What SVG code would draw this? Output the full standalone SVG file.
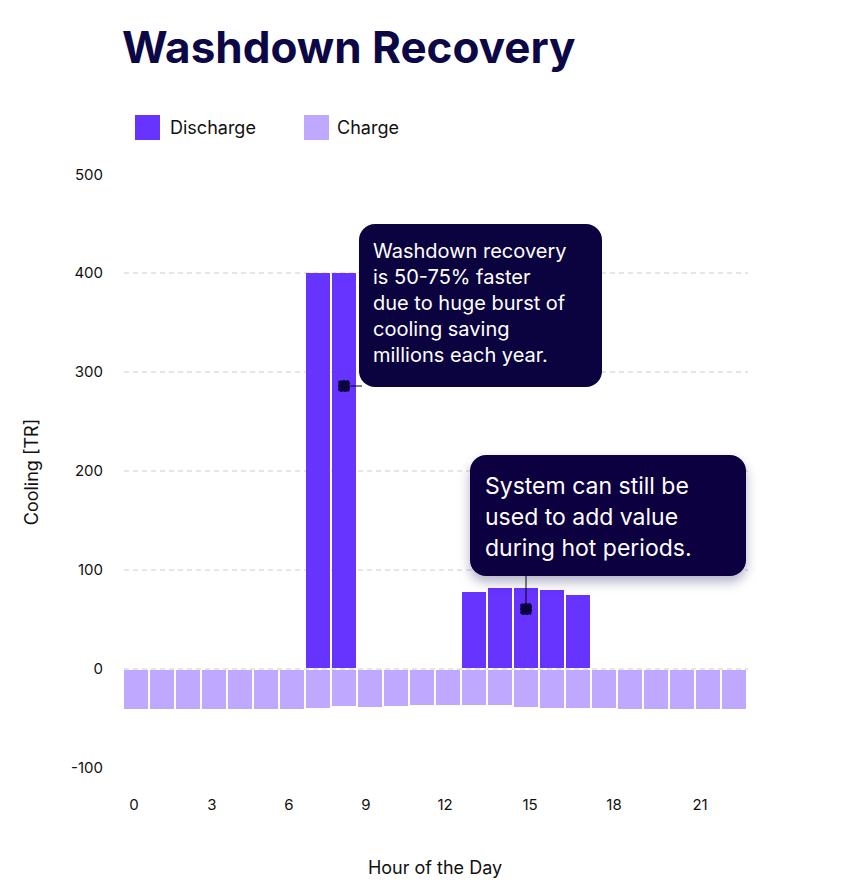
<svg xmlns="http://www.w3.org/2000/svg" width="843" height="891" viewBox="0 0 843 891">
<defs>
<filter id="sh" x="-20%" y="-20%" width="140%" height="160%"><feDropShadow dx="0" dy="6" stdDeviation="6" flood-color="#0b0845" flood-opacity="0.3"/></filter>
</defs>
<style>
text{font-family:Inter,"Liberation Sans",sans-serif;fill:#111}
.t{font-size:15px;text-anchor:end}
.x{font-size:15px;text-anchor:middle}
.g{stroke:#ccc;stroke-dasharray:5 4;stroke-width:1}
.d{fill:#6633ff}
.c{fill:#bfa8ff}
.cb{fill:#0b0340}
.ct{fill:#fff;font-size:20px}
.ct2{fill:#fff;font-size:23px}
</style>
<rect width="843" height="891" fill="#fff"/>
<text x="122" y="63" font-size="44" font-weight="bold" style="fill:#0b0845">Washdown Recovery</text>
<g id="legend">
<rect x="135" y="115" width="25" height="25" class="d"/><text x="170" y="134" font-size="18">Discharge</text>
<rect x="304" y="115" width="25" height="25" class="c"/><text x="337" y="134" font-size="18">Charge</text>
</g>
<g id="yaxis">
<text class="t" x="103" y="180">500</text><text class="t" x="103" y="278">400</text><text class="t" x="103" y="377">300</text><text class="t" x="103" y="476">200</text><text class="t" x="103" y="575">100</text><text class="t" x="103" y="674">0</text><text class="t" x="103" y="773">-100</text>
<text transform="translate(38,472) rotate(-90)" font-size="18" text-anchor="middle">Cooling [TR]</text>
</g>
<g id="grid">
<line class="g" x1="124" y1="273" x2="748" y2="273"/><line class="g" x1="124" y1="372" x2="748" y2="372"/><line class="g" x1="124" y1="471" x2="748" y2="471"/><line class="g" x1="124" y1="570" x2="748" y2="570"/><line class="g" x1="124" y1="669" x2="748" y2="669"/>
</g>
<g id="xaxis">
<text class="x" x="134" y="810">0</text><text class="x" x="212" y="810">3</text><text class="x" x="289" y="810">6</text><text class="x" x="366" y="810">9</text><text class="x" x="445" y="810">12</text><text class="x" x="530" y="810">15</text><text class="x" x="614" y="810">18</text><text class="x" x="700" y="810">21</text>
<text x="435" y="874" font-size="18" text-anchor="middle">Hour of the Day</text>
</g>
<g id="charge">
<rect class="c" x="124" y="670" width="24" height="39"/><rect class="c" x="150" y="670" width="24" height="39"/><rect class="c" x="176" y="670" width="24" height="39"/><rect class="c" x="202" y="670" width="24" height="39"/><rect class="c" x="228" y="670" width="24" height="39"/><rect class="c" x="254" y="670" width="24" height="39"/><rect class="c" x="280" y="670" width="24" height="39"/>
<rect class="c" x="306" y="670" width="24" height="38"/><rect class="c" x="332" y="670" width="24" height="36"/><rect class="c" x="358" y="670" width="24" height="37"/><rect class="c" x="384" y="670" width="24" height="36"/><rect class="c" x="410" y="670" width="24" height="35"/><rect class="c" x="436" y="670" width="24" height="35"/><rect class="c" x="462" y="670" width="24" height="35"/><rect class="c" x="488" y="670" width="24" height="35"/><rect class="c" x="514" y="670" width="24" height="37"/><rect class="c" x="540" y="670" width="24" height="38"/><rect class="c" x="566" y="670" width="24" height="38"/><rect class="c" x="592" y="670" width="24" height="38"/>
<rect class="c" x="618" y="670" width="24" height="39"/><rect class="c" x="644" y="670" width="24" height="39"/><rect class="c" x="670" y="670" width="24" height="39"/><rect class="c" x="696" y="670" width="24" height="39"/><rect class="c" x="722" y="670" width="24" height="39"/>
</g>
<g id="discharge">
<rect class="d" x="306" y="273" width="24" height="395"/><rect class="d" x="332" y="273" width="24" height="395"/>
<rect class="d" x="462" y="592" width="24" height="76"/><rect class="d" x="488" y="588" width="24" height="80"/><rect class="d" x="514" y="588" width="24" height="80"/><rect class="d" x="540" y="590" width="24" height="78"/><rect class="d" x="566" y="595" width="24" height="73"/>
</g>
<g id="connectors">
<line x1="344" y1="386" x2="362" y2="386" stroke="#000" stroke-width="1"/>
<line x1="526" y1="574" x2="526" y2="609" stroke="#000" stroke-width="1"/>
<rect x="338" y="380" width="12" height="12" rx="3" fill="#0b0340" stroke="#6633ff" stroke-width="1" stroke-dasharray="2 2"/>
<rect x="520" y="603" width="12" height="12" rx="3" fill="#0b0340" stroke="#6633ff" stroke-width="1" stroke-dasharray="2 2"/>
</g>
<g id="callout1">
<rect class="cb" x="359" y="224" width="243" height="163" rx="16"/>
<text class="ct" x="373" y="258">Washdown recovery</text><text class="ct" x="373" y="284">is 50-75% faster</text><text class="ct" x="373" y="310">due to huge burst of</text><text class="ct" x="373" y="336">cooling saving</text><text class="ct" x="373" y="362">millions each year.</text>
</g>
<g id="callout2">
<rect class="cb" x="470" y="455" width="276" height="121" rx="16" filter="url(#sh)"/>
<text class="ct2" x="485" y="494">System can still be</text><text class="ct2" x="485" y="525">used to add value</text><text class="ct2" x="485" y="556">during hot periods.</text>
</g>
</svg>
